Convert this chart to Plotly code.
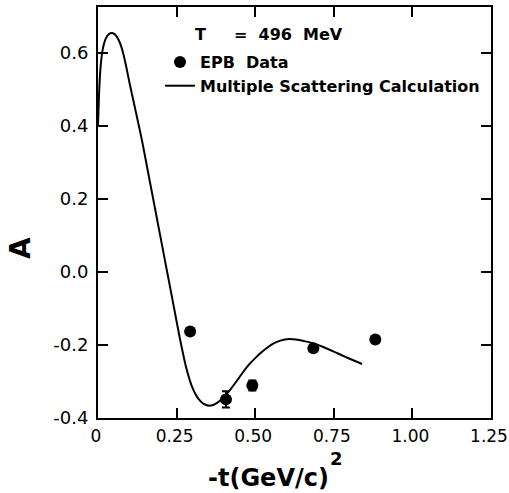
import plotly.graph_objects as go

# EPB asymmetry data vs momentum transfer
t_data = [0.293, 0.407, 0.491, 0.685, 0.882]
a_data = [-0.163, -0.349, -0.311, -0.209, -0.185]
a_err = [None, 0.022, 0.014, None, None]

# Multiple scattering calculation
t_calc = [0.000, 0.003, 0.008, 0.015, 0.025, 0.035, 0.045, 0.055, 0.065, 0.075,
          0.088, 0.101, 0.120, 0.140, 0.160, 0.180, 0.200, 0.220, 0.240, 0.260,
          0.280, 0.300, 0.320, 0.340, 0.360, 0.380, 0.400, 0.420, 0.440, 0.460,
          0.480, 0.500, 0.520, 0.540, 0.560, 0.580, 0.600, 0.620, 0.640, 0.660,
          0.690, 0.720, 0.750, 0.780, 0.810, 0.840]
a_calc = [0.400, 0.480, 0.560, 0.610, 0.640, 0.652, 0.655, 0.650, 0.637, 0.615,
          0.570, 0.515, 0.440, 0.360, 0.270, 0.180, 0.090, 0.000, -0.090, -0.180,
          -0.260, -0.316, -0.348, -0.363, -0.366, -0.358, -0.343, -0.323, -0.300, -0.276,
          -0.254, -0.236, -0.220, -0.206, -0.195, -0.188, -0.184, -0.184, -0.186, -0.190,
          -0.197, -0.207, -0.218, -0.230, -0.241, -0.252]

x_ticks = [0, 0.25, 0.5, 0.75, 1.0, 1.25]
x_labels = ["0", "0.25", "0.50", "0.75", "1.00", "1.25"]
y_ticks = [-0.4, -0.2, 0.0, 0.2, 0.4, 0.6]
y_labels = ["-0.4", "-0.2", "0.0", "0.2", "0.4", "0.6"]

W, H = 509, 493
L, R, T, B = 98, 18, 7, 75
PW, PH = W - L - R, H - T - B


def px(x):
    return (x - L) / PW


def py(y):
    return (H - B - y) / PH


FONT = "DejaVu Sans"

fig = go.Figure()
fig.add_trace(go.Scatter(
    x=t_data, y=a_data, mode="markers", name="EPB  Data",
    marker=dict(size=12, color="black"),
    error_y=dict(type="data", array=a_err, visible=True, color="black",
                 thickness=2, width=4),
))
fig.add_trace(go.Scatter(
    x=t_calc, y=a_calc, mode="lines", name="Multiple Scattering Calculation",
    line=dict(color="black", width=2, shape="spline", smoothing=0.5),
))

axis_common = dict(
    showline=True, linecolor="black", linewidth=2, mirror="ticks",
    ticks="inside", ticklen=10, tickwidth=2, tickcolor="black",
    showgrid=False, zeroline=False, ticklabeloverflow="allow", automargin=False,
)

fig.update_xaxes(range=[0, 1.25], tickvals=x_ticks, ticktext=x_labels,
                 ticklabelstandoff=2, ticklabelshift=-2,
                 tickfont=dict(family=FONT, size=17, color="black"), **axis_common)
fig.update_yaxes(range=[-0.4, 0.726], tickvals=y_ticks, ticktext=y_labels,
                 ticklabelstandoff=4,
                 tickfont=dict(family=FONT, size=18, color="black"), **axis_common)

annotations = [
    dict(text="A", x=px(20), y=py(248), textangle=-90,
         font=dict(family=FONT, size=28, color="black", weight="bold")),
    dict(text="-t(GeV/c)", x=px(268), y=py(478),
         font=dict(family=FONT, size=24, color="black", weight="bold")),
    dict(text="2", x=px(336), y=py(458),
         font=dict(family=FONT, size=18, color="black", weight="bold")),
    dict(text="T", x=px(200), y=py(34),
         font=dict(family=FONT, size=16, color="black", weight="bold")),
    dict(text="=  496  MeV", x=px(232), y=py(34), xanchor="left",
         font=dict(family=FONT, size=16, color="black", weight="bold")),
]
for a in annotations:
    a.setdefault("xanchor", "center")
    a.update(xref="paper", yref="paper", yanchor="middle", showarrow=False)

fig.update_layout(
    width=W, height=H,
    margin=dict(l=L, r=R, t=T, b=B),
    paper_bgcolor="white", plot_bgcolor="white",
    annotations=annotations,
    showlegend=True,
    legend=dict(x=px(160), y=py(45), xanchor="left", yanchor="top",
                bgcolor="rgba(0,0,0,0)",
                font=dict(family=FONT, size=16, color="black", weight="bold")),
)

fig.write_html("out.html")
